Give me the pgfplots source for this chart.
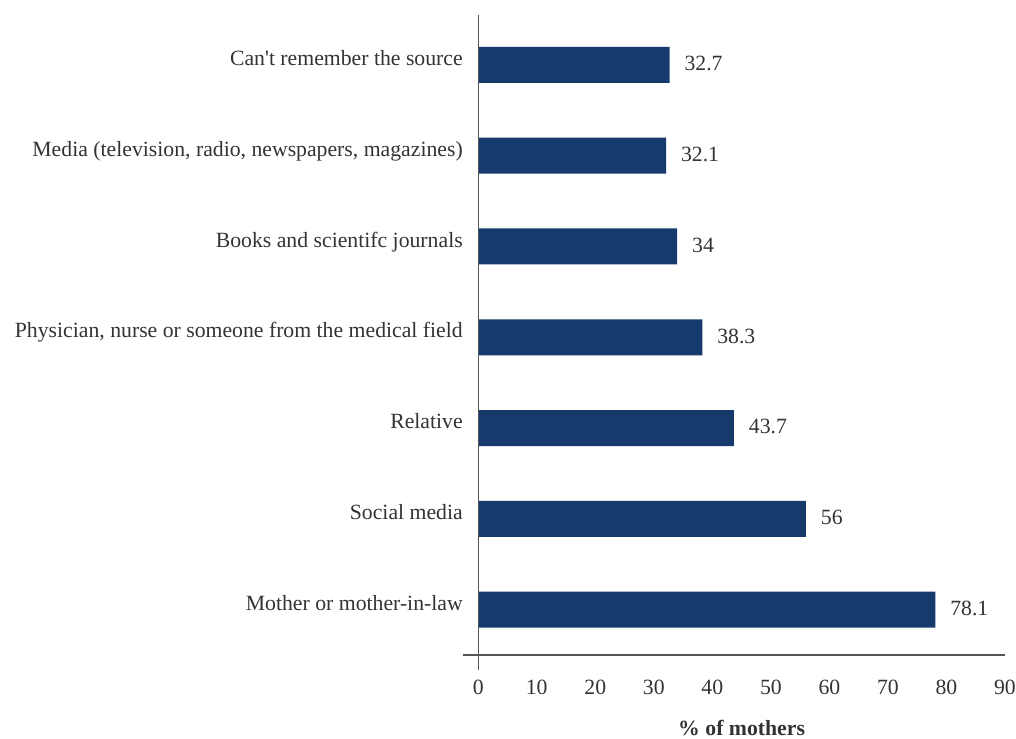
\documentclass[border=0pt]{standalone}
\usepackage{pgfplots}
\pgfplotsset{compat=1.18}
\usepackage{fontspec}
\setmainfont{Liberation Serif}[Ligatures=TeXOff]
\definecolor{barblue}{HTML}{163A6B}
\definecolor{txt}{HTML}{333333}
\definecolor{axl}{HTML}{555555}
\begin{document}
\begin{tikzpicture}
\path[use as bounding box] (-347.25pt,-62.25pt) rectangle (414.75pt,491.25pt);
\begin{axis}[
  at={(0,0)}, anchor=south west,
  scale only axis,
  width=406.5pt, height=480pt,
  xmin=-2.6, xmax=90,
  ymin=-0.5, ymax=6.55,
  xbar, bar width=27pt,
  axis line style={draw=none},
  major tick length=0pt,
  xtick={0,10,...,90},
  ytick={0,...,6},
  yticklabels={Mother or mother-in-law,Social media,Relative,{Physician, nurse or someone from the medical field},Books and scientifc journals,{Media (television, radio, newspapers, magazines)},Can't remember the source},
  /pgf/number format/assume math mode=true,
  tick label style={font=\fontsize{16.3}{19}\selectfont, text=txt},
  xticklabel style={anchor=center, yshift=-24pt},
  yticklabel style={anchor=base east, inner sep=0pt, xshift=0pt, yshift=-0.5pt},
  nodes near coords,
  nodes near coords style={anchor=west, inner sep=0pt, xshift=11pt, yshift=1pt, font=\fontsize{16.3}{19}\selectfont, text=txt},
  clip=false,
]
\addplot[fill=barblue, draw=none] coordinates {
(78.1,0) (56,1) (43.7,2) (38.3,3) (34,4) (32.1,5) (32.7,6)
};
\draw[axl, line width=1pt] (axis cs:-2.6,-0.5) -- (axis cs:90,-0.5);
\draw[axl, line width=1pt] (axis cs:0,-0.66) -- (axis cs:0,6.55);
\node[font=\bfseries\fontsize{16.3}{19}\selectfont, text=txt] at (axis cs:45,-0.5) [yshift=-54.5pt] {\% of mothers};
\end{axis}
\end{tikzpicture}
\end{document}
